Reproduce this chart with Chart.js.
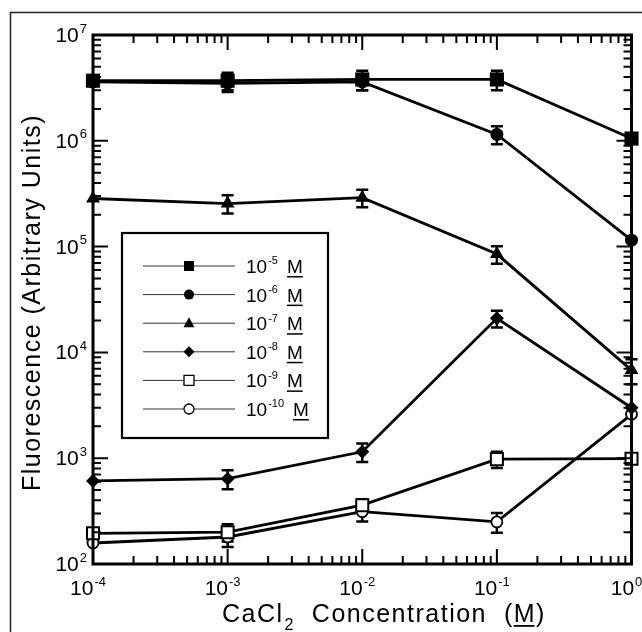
<!DOCTYPE html>
<html lang="en">
<head>
<meta charset="UTF-8" />
<title>Fluorescence vs CaCl2 Concentration</title>
<style>
  body { margin: 0; background: #fff; }
  #wrap { position: relative; width: 642px; height: 632px; }
</style>
</head>
<body>
<div id="wrap"><canvas id="chart" width="642" height="632"></canvas></div>
<script src="https://cdn.jsdelivr.net/npm/chart.js"></script>
<script>
// CaCl2 concentration (M) - x values
const conc = [1e-4, 1e-3, 1e-2, 1e-1, 1];

// fluorescence for each probe concentration
const f5  = [3.7e6, 3.7e6, 3.8e6, 3.8e6, 1.05e6];
const f6  = [3.6e6, 3.5e6, 3.6e6, 1.15e6, 1.15e5];
const f7  = [2.85e5, 2.55e5, 2.9e5, 8.5e4, 6.8e3];
const f8  = [610, 640, 1150, 2.1e4, 3.0e3];
const f9  = [195, 200, 360, 980, 990];
const f10 = [158, 180, 312, 250, 2600];

// error bars (+/-)
const e5  = [0, 7e5, 8e5, 8e5, 0];
const e6  = [0, 6e5, 6e5, 2.2e5, 0];
const e7  = [0, 5e4, 5.5e4, 1.6e4, 1.8e3];
const e8  = [0, 130, 230, 3800, 0];
const e9  = [0, 37, 50, 170, 0];
const e10 = [0, 35, 60, 53, 0];

const expLabels = ['-5', '-6', '-7', '-8', '-9', '-10'];
const xTicks = [1e-4, 1e-3, 1e-2, 1e-1, 1];
const xTickExp = ['-4', '-3', '-2', '-1', '0'];
const yTicks = [1e2, 1e3, 1e4, 1e5, 1e6, 1e7];
const yTickExp = ['2', '3', '4', '5', '6', '7'];

const FONT = '"Liberation Sans", Arial, sans-serif';

// marker look per series
const styles = [
  { pointStyle: 'rect',    radius: 10,  fill: '#000', bw: 0,   lg: 'square', open: false },
  { pointStyle: 'circle',  radius: 6.5, fill: '#000', bw: 0,   lg: 'circle', open: false },
  { pointStyle: 'triangle',radius: 8,   fill: '#000', bw: 0,   lg: 'tri',    open: false },
  { pointStyle: 'rectRot', radius: 7,   fill: '#000', bw: 0,   lg: 'diamond',open: false },
  { pointStyle: 'rect',    radius: 8.5, fill: '#fff', bw: 2,   lg: 'square', open: true },
  { pointStyle: 'circle',  radius: 5.5, fill: '#fff', bw: 1.8, lg: 'circle', open: true }
];

const values = [f5, f6, f7, f8, f9, f10];
const errors = [e5, e6, e7, e8, e9, e10];

const datasets = values.map((vals, i) => ({
  label: '10' + expLabels[i] + ' M',
  data: conc.map((c, j) => ({ x: c, y: vals[j] })),
  borderColor: '#000',
  borderWidth: 2.8,
  backgroundColor: styles[i].fill,
  pointStyle: styles[i].pointStyle,
  pointRadius: styles[i].radius,
  pointBackgroundColor: styles[i].fill,
  pointBorderColor: '#000',
  pointBorderWidth: styles[i].bw,
  tension: 0,
  clip: false
}));

// superscript power label "10^exp"
function drawPow(ctx, exp, x, y, size, align) {
  ctx.textAlign = 'left';
  ctx.textBaseline = 'alphabetic';
  ctx.font = size + 'px ' + FONT;
  const wb = ctx.measureText('10').width;
  const es = Math.round(size * 0.6);
  ctx.font = es + 'px ' + FONT;
  const we = ctx.measureText(exp).width;
  const total = wb + 1 + we;
  let x0 = x;
  if (align === 'right') x0 = x - total;
  if (align === 'center') x0 = x - total / 2;
  ctx.font = size + 'px ' + FONT;
  ctx.fillText('10', x0, y);
  ctx.font = es + 'px ' + FONT;
  ctx.fillText(exp, x0 + wb + 1, y - size * 0.45);
  return x0 + total;
}

function legendMarker(ctx, kind, open, x, y) {
  ctx.save();
  ctx.fillStyle = open ? '#fff' : '#000';
  ctx.strokeStyle = '#000';
  ctx.lineWidth = 1.3;
  ctx.beginPath();
  if (kind === 'square') {
    ctx.rect(x - 5, y - 5, 10, 10);
  } else if (kind === 'circle') {
    ctx.arc(x, y, 5, 0, Math.PI * 2);
  } else if (kind === 'tri') {
    ctx.moveTo(x, y - 6); ctx.lineTo(x + 5.5, y + 4); ctx.lineTo(x - 5.5, y + 4); ctx.closePath();
  } else {
    ctx.moveTo(x, y - 5.5); ctx.lineTo(x + 5.5, y); ctx.lineTo(x, y + 5.5); ctx.lineTo(x - 5.5, y); ctx.closePath();
  }
  ctx.fill();
  if (open) ctx.stroke();
  ctx.restore();
}

const errorBars = {
  id: 'errorBars',
  beforeDatasetsDraw(chart) {
    const ctx = chart.ctx;
    const xs = chart.scales.x, ys = chart.scales.y;
    ctx.save();
    ctx.strokeStyle = '#000';
    ctx.lineWidth = 2.5;
    values.forEach((vals, i) => {
      vals.forEach((v, j) => {
        const e = errors[i][j];
        if (!e) return;
        const px = xs.getPixelForValue(conc[j]);
        const top = ys.getPixelForValue(v + e);
        const bot = ys.getPixelForValue(v - e);
        ctx.beginPath();
        ctx.moveTo(px, top); ctx.lineTo(px, bot);
        ctx.moveTo(px - 6, top); ctx.lineTo(px + 6, top);
        ctx.moveTo(px - 6, bot); ctx.lineTo(px + 6, bot);
        ctx.stroke();
      });
    });
    ctx.restore();
  }
};

const frame = {
  id: 'frame',
  afterDraw(chart) {
    const ctx = chart.ctx;
    const a = chart.chartArea;
    const xs = chart.scales.x, ys = chart.scales.y;
    ctx.save();

    // outer figure border
    ctx.strokeStyle = '#222';
    ctx.lineWidth = 1.5;
    ctx.strokeRect(10.5, 12.5, 640, 630);

    // plot frame
    ctx.strokeStyle = '#000';
    ctx.lineWidth = 3;
    ctx.strokeRect(a.left, a.top, a.right - a.left, a.bottom - a.top);

    // inward ticks on all four sides
    ctx.lineWidth = 2;
    ctx.beginPath();
    for (let d = -4; d <= 0; d++) {
      for (let m = 1; m <= 9; m++) {
        const v = m * Math.pow(10, d);
        if (v > 1) break;
        const px = xs.getPixelForValue(v);
        const len = m === 1 ? 15 : 8;
        ctx.moveTo(px, a.bottom); ctx.lineTo(px, a.bottom - len);
        ctx.moveTo(px, a.top); ctx.lineTo(px, a.top + len);
      }
    }
    for (let d = 2; d <= 7; d++) {
      for (let m = 1; m <= 9; m++) {
        const v = m * Math.pow(10, d);
        if (v > 1e7) break;
        const py = ys.getPixelForValue(v);
        const len = m === 1 ? 15 : 8;
        ctx.moveTo(a.left, py); ctx.lineTo(a.left + len, py);
        ctx.moveTo(a.right, py); ctx.lineTo(a.right - len, py);
      }
    }
    ctx.stroke();

    // tick labels
    ctx.fillStyle = '#000';
    xTicks.forEach((v, i) => {
      drawPow(ctx, xTickExp[i], xs.getPixelForValue(v) - 5, a.bottom + 31, 21, 'center');
    });
    yTicks.forEach((v, i) => {
      drawPow(ctx, yTickExp[i], a.left - 6, ys.getPixelForValue(v) + 7, 21, 'right');
    });

    // axis titles
    ctx.letterSpacing = '1.5px';
    ctx.font = '25px ' + FONT;
    ctx.textBaseline = 'alphabetic';
    ctx.save();
    ctx.translate(40, (a.top + a.bottom) / 2 + 3);
    ctx.rotate(-Math.PI / 2);
    ctx.textAlign = 'center';
    ctx.fillText('Fluorescence (Arbitrary Units)', 0, 0);
    ctx.restore();

    ctx.textAlign = 'left';
    let x = 222;
    const by = 622;
    ctx.fillText('CaCl', x, by);
    x += ctx.measureText('CaCl').width + 1;
    ctx.font = '16px ' + FONT;
    ctx.fillText('2', x, by + 8);
    x += ctx.measureText('2').width;
    ctx.font = '25px ' + FONT;
    const mid = '  Concentration  (';
    ctx.fillText(mid, x, by);
    x += ctx.measureText(mid).width;
    ctx.fillText('M', x, by);
    const mw = ctx.measureText('M').width;
    ctx.fillRect(x, by + 3, mw - 1.5, 1.8);
    x += mw;
    ctx.fillText(')', x, by);
    ctx.letterSpacing = '0px';

    // legend box
    const lx = 122, ly = 233, lw = 206, lh = 205;
    ctx.fillStyle = '#fff';
    ctx.fillRect(lx, ly, lw, lh);
    ctx.strokeStyle = '#000';
    ctx.lineWidth = 2.2;
    ctx.strokeRect(lx, ly, lw, lh);
    styles.forEach((s, i) => {
      const y = 266 + i * 28.6;
      ctx.strokeStyle = '#333';
      ctx.lineWidth = 1;
      ctx.beginPath();
      ctx.moveTo(143, y); ctx.lineTo(235, y);
      ctx.stroke();
      legendMarker(ctx, s.lg, s.open, 189, y);
      ctx.fillStyle = '#000';
      const end = drawPow(ctx, expLabels[i], 246, y + 7, 19, 'left');
      ctx.font = '19px ' + FONT;
      const mx = end + 9;
      ctx.fillText('M', mx, y + 7);
      ctx.fillRect(mx, y + 10, ctx.measureText('M').width, 1.5);
    });

    ctx.restore();
  }
};

new Chart(document.getElementById('chart').getContext('2d'), {
  type: 'line',
  data: { datasets },
  options: {
    responsive: false,
    animation: false,
    layout: { padding: { left: 93, top: 35, right: 9, bottom: 68 } },
    scales: {
      x: { type: 'logarithmic', min: 1e-4, max: 1, display: false },
      y: { type: 'logarithmic', min: 1e2, max: 1e7, display: false }
    },
    plugins: {
      legend: { display: false },
      tooltip: { enabled: false }
    }
  },
  plugins: [errorBars, frame]
});
</script>
</body>
</html>
